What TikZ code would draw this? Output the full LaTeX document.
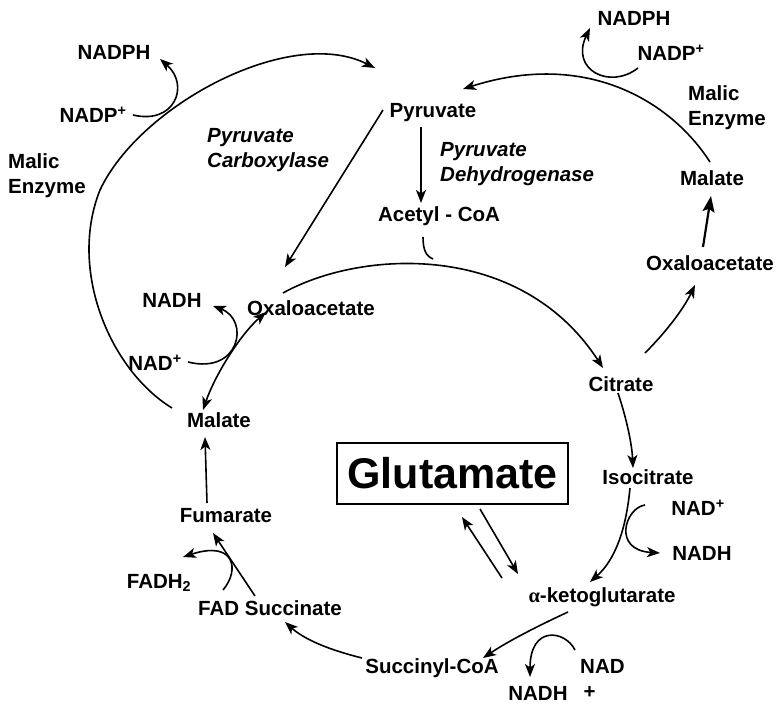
\documentclass[tikz,border=0pt]{standalone}
\usepackage{fontspec}
\setmainfont{Liberation Sans}
\newfontfamily\alphafont{Liberation Serif}
\usetikzlibrary{arrows.meta}
\begin{document}
\begin{tikzpicture}[x=1pt,y=-1pt,
  lbl/.style={font=\fontsize{20.5}{25}\selectfont\bfseries, inner sep=0pt},
  ital/.style={font=\fontsize{20.5}{25}\selectfont\bfseries\itshape, inner sep=0pt, align=left, anchor=west},
  link/.style={line width=1.6pt},
  arr/.style={link, -{Stealth[length=13pt,width=10pt,inset=3.5pt]}},
  darr/.style={link, {Stealth[length=13pt,width=10pt,inset=3.5pt]}-{Stealth[length=13pt,width=10pt,inset=3.5pt]}},
  bigarr/.style={line width=2.2pt, -{Stealth[length=16pt,width=12pt,inset=3pt]}}]
\useasboundingbox (0,0) rectangle (777,709);

% ---- labels ----
\node[lbl] (nadphL) at (114,52) {NADPH};
\node[lbl] (nadpL) at (93,115) {NADP\textsuperscript{+}};
\node[lbl, align=left, anchor=west] (meL) at (8,176) {Malic\\Enzyme};
\node[ital] (pc) at (207,150) {Pyruvate\\Carboxylase};
\node[lbl] (pyr) at (433,113) {Pyruvate};
\node[ital] (pdh) at (440,164) {Pyruvate\\Dehydrogenase};
\node[lbl] (acoa) at (439,216) {Acetyl - CoA};
\node[lbl] (nadphR) at (634,18) {NADPH};
\node[lbl] (nadpR) at (671,53) {NADP\textsuperscript{+}};
\node[lbl, align=left, anchor=west] (meR) at (688,108) {Malic\\Enzyme};
\node[lbl] (malR) at (712,178) {Malate};
\node[lbl] (oaaR) at (710,263) {Oxaloacetate};
\node[lbl] (nadhL) at (172,300) {NADH};
\node[lbl] (oaaL) at (311,308) {Oxaloacetate};
\node[lbl] (nadL) at (155,363) {NAD\textsuperscript{+}};
\node[lbl] (malL) at (219,420) {Malate};
\node[lbl] (cit) at (621,384) {Citrate};
\node[draw, line width=1.2pt, minimum width=231pt, minimum height=61pt, inner sep=0pt,
      font=\fontsize{43}{47}\selectfont\bfseries] (glu) at (452.5,473.5) {Glutamate};
\node[lbl] (iso) at (648,477) {Isocitrate};
\node[lbl] (nadR) at (698,508) {NAD\textsuperscript{+}};
\node[lbl] (nadhR) at (702,553) {NADH};
\node[lbl] (fadh) at (159,583) {FADH\textsubscript{2}};
\node[lbl] (fum) at (226,516) {Fumarate};
\node[lbl] (succ) at (270,608) {FAD Succinate};
\node[lbl] (akg) at (602,597) {{\alphafont α}-ketoglutarate};
\node[lbl] (scoa) at (432,668) {Succinyl-CoA};
\node[lbl, align=left, anchor=west] (nadB) at (580,679) {NAD\\\,+};
\node[lbl] (nadhB) at (538,693) {NADH};

% ---- connector end points ----
\coordinate (a1) at (172,408);
\coordinate (a2) at (100,190);
\coordinate (a3) at (375,68);
\coordinate (b0) at (133,115);
\coordinate (b1) at (160,59);
\coordinate (c1) at (710,162);
\coordinate (c2) at (463,89);
\coordinate (d0) at (638,68);
\coordinate (d1) at (590,28);
\coordinate (e0) at (383,110);
\coordinate (e1) at (285,267);
\coordinate (f0) at (421,127);
\coordinate (f1) at (421,203);
\coordinate (g0) at (423,237);
\coordinate (g1) at (433,259);
\coordinate (h0) at (283,293);
\coordinate (h1) at (603,368);
\coordinate (i0) at (618,393);
\coordinate (i1) at (633,468);
\coordinate (j0) at (645,353);
\coordinate (j1) at (695,285);
\coordinate (k0) at (703,247);
\coordinate (k1) at (711,196);
\coordinate (l0) at (630,488);
\coordinate (l1) at (590,582);
\coordinate (m0) at (645,505);
\coordinate (m1) at (660,553);
\coordinate (n0) at (502,578);
\coordinate (n1) at (462,517);
\coordinate (o0) at (480,509);
\coordinate (o1) at (518,574);
\coordinate (p0) at (568,612);
\coordinate (p1) at (483,658);
\coordinate (q0) at (575,650);
\coordinate (q1) at (530,677);
\coordinate (r0) at (362,658);
\coordinate (r1) at (285,622);
\coordinate (s0) at (255,596);
\coordinate (s1) at (213,533);
\coordinate (t0) at (223,590);
\coordinate (t1) at (183,557);
\coordinate (u0) at (207,503);
\coordinate (u1) at (205,437);
\coordinate (v0) at (203,410);
\coordinate (v1) at (266,312);
\coordinate (w0) at (188,362);
\coordinate (w1) at (213,306);

% ---- connectors ----
\draw[arr] (a1) .. controls (110,370) and (68,270) .. (a2) .. controls (140,105) and (290,25) .. (a3);
\draw[arr] (b0) .. controls (175,125) and (190,85) .. (b1);
\draw[arr] (c1) .. controls (670,100) and (585,50) .. (c2);
\draw[arr] (d0) .. controls (610,90) and (570,70) .. (d1);
\draw[arr] (e0) -- (e1);
\draw[arr] (f0) -- (f1);
\draw[link] (g0) .. controls (423,250) and (426,256) .. (g1);
\draw[arr] (h0) .. controls (360,250) and (520,240) .. (h1);
\draw[arr] (i0) .. controls (627,420) and (632,445) .. (i1);
\draw[arr] (j0) .. controls (665,333) and (683,310) .. (j1);
\draw[bigarr] (k0) -- (k1);
\draw[arr] (l0) .. controls (626,530) and (615,560) .. (l1);
\draw[arr] (m0) .. controls (625,508) and (612,550) .. (m1);
\draw[arr] (n0) -- (n1);
\draw[arr] (o0) -- (o1);
\draw[arr] (p0) .. controls (540,625) and (510,640) .. (p1);
\draw[arr] (q0) .. controls (565,630) and (530,625) .. (q1);
\draw[arr] (r0) .. controls (330,650) and (305,640) .. (r1);
\draw[arr] (s0) -- (s1);
\draw[arr] (t0) .. controls (240,570) and (235,540) .. (t1);
\draw[arr] (u0) -- (u1);
\draw[darr] (v0) .. controls (215,375) and (240,335) .. (v1);
\draw[arr] (w0) .. controls (240,375) and (250,320) .. (w1);
\end{tikzpicture}
\end{document}
